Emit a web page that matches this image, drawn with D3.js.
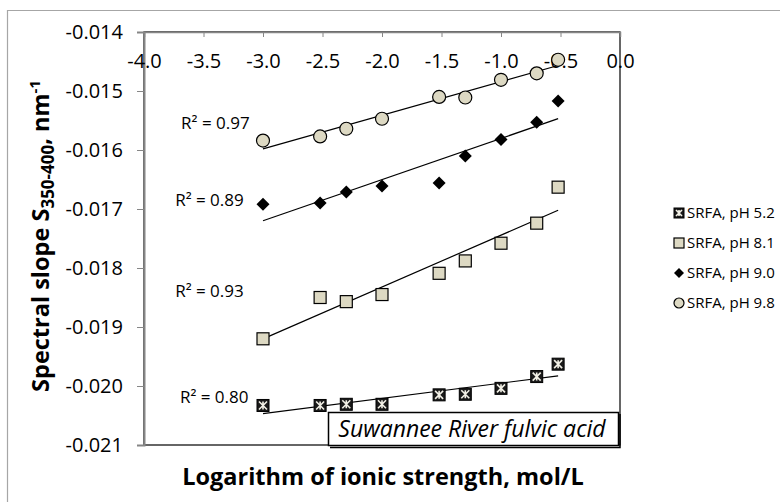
<!DOCTYPE html>
<html>
<head>
<meta charset="utf-8">
<script src="https://cdn.jsdelivr.net/npm/d3@7"></script>
<style>
  html, body { margin: 0; padding: 0; background: #fff; }
  svg { display: block; font-family: "Open Sans", sans-serif; }
</style>
</head>
<body>
<svg id="chart" width="780" height="502"></svg>
<script>
// ---- data ----
const logI = [-3.0, -2.52, -2.3, -2.0, -1.52, -1.3, -1.0, -0.7, -0.52];
const pH52 = [-0.02033, -0.02033, -0.02031, -0.02031, -0.02015, -0.02014, -0.02004, -0.01984, -0.01963];
const pH81 = [-0.01920, -0.01850, -0.01857, -0.01845, -0.01809, -0.01788, -0.01758, -0.01724, -0.01663];
const pH90 = [-0.01692, -0.01690, -0.01671, -0.01661, -0.01656, -0.01610, -0.01582, -0.01553, -0.01517];
const pH98 = [-0.01584, -0.01577, -0.01564, -0.01547, -0.01510, -0.01511, -0.01481, -0.01470, -0.01447];
const seriesNames = ["SRFA, pH 5.2", "SRFA, pH 8.1", "SRFA, pH 9.0", "SRFA, pH 9.8"];
const r2Labels = ["R² = 0.80", "R² = 0.93", "R² = 0.89", "R² = 0.97"];
// label anchor points in data units (log I, slope)
const r2AnchorX = [-3.41, -3.45, -3.45, -3.40];
const r2AnchorY = [-0.02019, -0.01839, -0.01685, -0.01554];
const xTicks = [-4.0, -3.5, -3.0, -2.5, -2.0, -1.5, -1.0, -0.5, 0.0];
const yTicks = [-0.014, -0.015, -0.016, -0.017, -0.018, -0.019, -0.020, -0.021];

const seriesVals = [pH52, pH81, pH90, pH98];
const markerTypes = ["xbox", "square", "diamond", "circle"];

const svg = d3.select("#chart");
const tan = "#ddd9c3";

// outer chart border
svg.append("path").attr("d", "M7.5,502 L7.5,10.5 L780,10.5")
  .attr("fill", "none").attr("stroke", "#a6a6a6").attr("stroke-width", 1.2);

const x = d3.scaleLinear().domain([-4, 0]).range([144, 620]);
const y = d3.scaleLinear().domain([-0.021, -0.014]).range([445, 32]);

// plot area border
svg.append("rect").attr("x", x(-4)).attr("y", y(-0.014))
  .attr("width", x(0) - x(-4)).attr("height", y(-0.021) - y(-0.014))
  .attr("fill", "none").attr("stroke", "#000").attr("stroke-width", 1.2);

// Y axis (left)
const yAxis = svg.append("g").attr("transform", `translate(${x(-4)},0)`)
  .call(d3.axisLeft(y).tickValues(yTicks).tickSize(7).tickPadding(14)
    .tickFormat(d => d3.format(".3f")(d).replace("−", "-")));
yAxis.select(".domain").attr("stroke", "#868686").attr("stroke-width", 2);
yAxis.selectAll(".tick line").attr("stroke", "#868686");
yAxis.selectAll("text").attr("font-size", 20).attr("fill", "#000")
  .attr("font-family", "Open Sans").attr("dy", "0.34em");

// X axis (top, labels below)
const xAxis = svg.append("g").attr("transform", `translate(0,${y(-0.014)})`)
  .call(d3.axisBottom(x).tickValues(xTicks).tickSize(5).tickPadding(17)
    .tickFormat(d => d3.format(".1f")(d).replace("−", "-")));
xAxis.select(".domain").attr("stroke", "#868686").attr("stroke-width", 1.5);
xAxis.selectAll(".tick line").attr("stroke", "#868686");
xAxis.selectAll("text").attr("font-size", 20).attr("fill", "#000").attr("font-family", "Open Sans");

// regression lines
function fit(xs, ys) {
  const n = xs.length;
  const mx = d3.mean(xs), my = d3.mean(ys);
  let sxy = 0, sxx = 0;
  for (let i = 0; i < n; i++) { sxy += (xs[i] - mx) * (ys[i] - my); sxx += (xs[i] - mx) ** 2; }
  const b = sxy / sxx;
  return t => my + b * (t - mx);
}
const xMin = d3.min(logI), xMax = d3.max(logI);
seriesVals.forEach(vals => {
  const f = fit(logI, vals);
  svg.append("line")
    .attr("x1", x(xMin)).attr("y1", y(f(xMin)))
    .attr("x2", x(xMax)).attr("y2", y(f(xMax)))
    .attr("stroke", "#000").attr("stroke-width", 1.2);
});

// marker drawing
function drawMarker(g, type, cx, cy, s) {
  if (type === "circle") {
    g.append("circle").attr("cx", cx).attr("cy", cy).attr("r", s / 2)
      .attr("fill", tan).attr("stroke", "#000").attr("stroke-width", 1.2);
  } else if (type === "square") {
    g.append("rect").attr("x", cx - s / 2).attr("y", cy - s / 2).attr("width", s).attr("height", s)
      .attr("fill", tan).attr("stroke", "#000").attr("stroke-width", 1.2);
  } else if (type === "diamond") {
    const h = s / 2 + 1;
    g.append("path").attr("d", `M${cx},${cy - h} L${cx + h},${cy} L${cx},${cy + h} L${cx - h},${cy} Z`)
      .attr("fill", "#000");
  } else if (type === "xbox") {
    g.append("rect").attr("x", cx - s / 2).attr("y", cy - s / 2).attr("width", s).attr("height", s)
      .attr("fill", "#1a1a1a").attr("stroke", "#000").attr("stroke-width", 1);
    const a = s / 2 - 2;
    g.append("path").attr("d",
      `M${cx - a},${cy - a} L${cx + a},${cy + a} M${cx + a},${cy - a} L${cx - a},${cy + a} M${cx},${cy - a} L${cx},${cy + a}`)
      .attr("stroke", "#f2f0e6").attr("stroke-width", 1.6).attr("fill", "none");
  }
}

// points
seriesVals.forEach((vals, si) => {
  const g = svg.append("g");
  vals.forEach((v, i) => {
    const size = markerTypes[si] === "circle" ? 13 : (markerTypes[si] === "diamond" ? 11 : 12);
    drawMarker(g, markerTypes[si], x(logI[i]), y(v), size);
  });
});

// R² labels
r2Labels.forEach((lab, si) => {
  svg.append("text")
    .attr("x", x(r2AnchorX[si])).attr("y", y(r2AnchorY[si]))
    .attr("text-anchor", "middle").attr("font-size", 17).attr("fill", "#000")
    .attr("dy", "0.35em")
    .text(lab);
});

// annotation box (with slight shadow)
const ann = svg.append("g");
ann.append("path").attr("d", "M330,447.5 L620,447.5 L620,414")
  .attr("fill", "none").attr("stroke", "#000").attr("stroke-width", 1.5);
ann.append("rect").attr("x", 328.5).attr("y", 412.5).attr("width", 290).attr("height", 33)
  .attr("fill", "#fff").attr("stroke", "#000").attr("stroke-width", 1.5);
ann.append("text").attr("x", 472).attr("y", 437).attr("text-anchor", "middle")
  .attr("font-size", 23).attr("font-style", "italic").attr("fill", "#000")
  .text("Suwannee River fulvic acid");

// axis titles
svg.append("text").attr("x", 383).attr("y", 485).attr("text-anchor", "middle")
  .attr("font-size", 23.5).attr("font-weight", "bold").attr("fill", "#000")
  .text("Logarithm of ionic strength, mol/L");

const yt = svg.append("text").attr("transform", "translate(49,236) rotate(-90)")
  .attr("text-anchor", "middle").attr("font-size", 23.5).attr("font-weight", "bold").attr("fill", "#000");
yt.append("tspan").text("Spectral slope S");
yt.append("tspan").attr("font-size", 17).attr("dy", 5).text("350-400");
yt.append("tspan").attr("dy", -5).text(", nm");
yt.append("tspan").attr("font-size", 15).attr("dy", -9).text("-1");

// legend
const leg = svg.append("g");
seriesNames.forEach((name, i) => {
  const cy = 213 + i * 30;
  drawMarker(leg, markerTypes[i], 679, cy, markerTypes[i] === "diamond" ? 8 : 10);
  leg.append("text").attr("x", 687).attr("y", cy).attr("dy", "0.35em")
    .attr("font-size", 15).attr("fill", "#000").text(name);
});
</script>
</body>
</html>
